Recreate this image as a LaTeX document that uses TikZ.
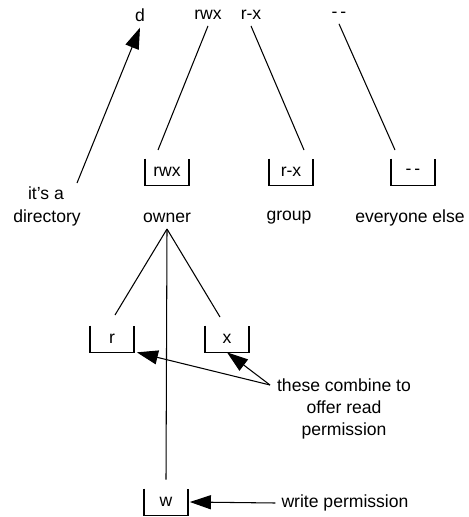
\documentclass[tikz,border=0pt]{standalone}
\usepackage{fontspec}
\setmainfont{Liberation Sans}
\usetikzlibrary{arrows.meta}

\begin{document}
\begin{tikzpicture}[x=0.02cm, y=-0.02cm,
    font=\fontsize{10}{12.5}\selectfont,
    permbox/.style={inner sep=0pt, minimum width=0.86cm, minimum height=0.52cm},
    link/.style={line width=0.6pt},
    pointer/.style={line width=0.6pt, -{Triangle[length=12pt, width=8pt]}}]
    \useasboundingbox (0,0) rectangle (469,517);

    % the string as ls prints it
    \node (d) at (140,15) {d};
    \node (rwx) at (208,15) {rwx};
    \node (rx) at (251,15) {r-x};
    \node (none) at (339,15) {-\,-};

    % one box per class of user
    \node[permbox] (own) at (167,172) {rwx};
    \node[permbox] (grp) at (291,172) {r-x};
    \node[permbox] (oth) at (413,172) {-\,-};
    \node (itsa) at (46,193) {it's a};
    \node (dir) at (47,218) {directory};
    \node (owner) at (167,218) {owner};
    \node (group) at (289,218) {group};
    \node (else) at (410,218) {everyone else};

    % the owner's bits
    \node[permbox] (rb) at (112,339) {r};
    \node[permbox] (xb) at (227,339) {x};
    \node[permbox] (wb) at (166,502) {w};
    \node[align=center] (comb) at (344,409) {these combine to\\offer read\\permission};
    \node (write) at (345,503) {write permission};

    \foreach \b in {own,grp,oth,rb,xb,wb}
      \draw[line width=0.8pt] (\b.north west) |- (\b.south east) -- (\b.north east);

    \coordinate (dirtail) at (77,183);
    \coordinate (ownend) at (158,150);
    \coordinate (grpend) at (304,150);
    \coordinate (othend) at (395,150);
    \coordinate (rend) at (115,315);
    \coordinate (xend) at (220,317);
    \coordinate (combtail) at (270,385);

    \draw[pointer] (dirtail) -- (d.south);
    \draw[link] (rwx.south) -- (ownend);
    \draw[link] (rx.south) -- (grpend);
    \draw[link] (none.south) -- (othend);

    \draw[link] (owner.south) -- (rend);
    \draw[link] (owner.south) -- (xend);
    \draw[link] (owner.south) -- ([yshift=0.18cm]wb.north);

    \draw[pointer] (combtail) -- ([xshift=0.06cm]rb.south east);
    \draw[pointer] (combtail) -- (xb.south);
    \draw[pointer] (write.west) -- ([xshift=0.04cm]wb.east);
\end{tikzpicture}
\end{document}
